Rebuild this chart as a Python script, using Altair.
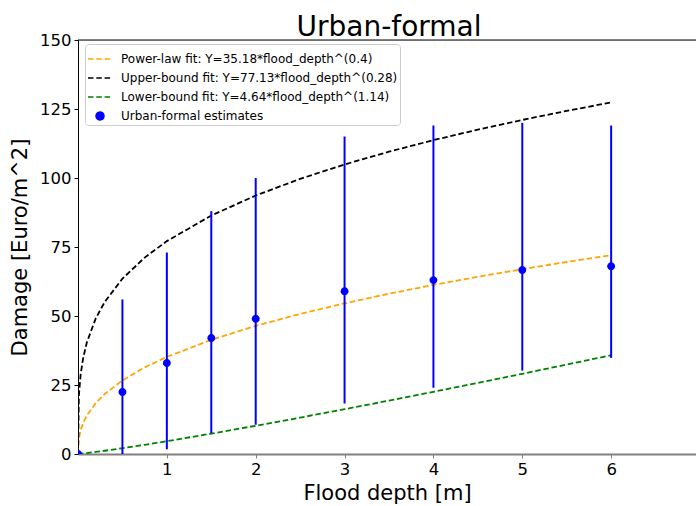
import altair as alt
import pandas as pd

TITLE = "Urban-formal"
POWER = "Power-law fit: Y=35.18*flood_depth^(0.4)"
UPPER = "Upper-bound fit: Y=77.13*flood_depth^(0.28)"
LOWER = "Lower-bound fit: Y=4.64*flood_depth^(1.14)"
EST = "Urban-formal estimates"

series_labels = [POWER, UPPER, LOWER, EST]
series_colors = ["#FFA500", "#000000", "#008000", "#0000FF"]

# fitted curves
fit_depth = [0, 0.01, 0.03, 0.06, 0.1, 0.2, 0.3, 0.5, 0.75, 1, 1.5, 2, 2.5, 3, 3.5, 4, 4.5, 5, 5.5, 6]
power_fit = [0, 5.58, 8.65, 11.42, 14.01, 18.48, 21.73, 26.66, 31.36, 35.18, 41.37, 46.42, 50.75,
             54.59, 58.07, 61.25, 64.21, 66.97, 69.57, 72.04]
upper_fit = [0, 21.25, 28.89, 35.09, 40.48, 49.15, 55.06, 63.52, 71.16, 77.13, 86.40, 93.65, 99.69,
             104.91, 109.54, 113.71, 117.52, 121.04, 124.32, 127.38]
lower_fit = [0, 0.02, 0.09, 0.19, 0.34, 0.74, 1.18, 2.11, 3.34, 4.64, 7.37, 10.23, 13.19,
             16.23, 19.35, 22.54, 25.77, 29.06, 32.40, 35.78]

# estimates with error ranges
est_depth = [0, 0.5, 1, 1.5, 2, 3, 4, 5, 6]
est_damage = [0, 22.5, 33, 42, 49, 59, 63, 66.7, 68]
est_low = [0, 0, 1.7, 7.5, 10.6, 18.3, 24, 30.2, 34.8]
est_high = [0, 56, 73, 88, 100, 115, 119, 120, 119]

x_domain = [0, 6.955]
y_domain = [0, 150]
x_ticks = [1, 2, 3, 4, 5, 6]
y_ticks = [0, 25, 50, 75, 100, 125, 150]

FONT = "DejaVu Sans"
DASH = [5.5, 2.8]
CIRCLE_PATH = "M-0.33,0A0.33,0.33,0,1,0,0.33,0A0.33,0.33,0,1,0,-0.33,0Z"

fit_rows = []
for label, vals in [(POWER, power_fit), (UPPER, upper_fit), (LOWER, lower_fit)]:
    for d, v in zip(fit_depth, vals):
        fit_rows.append({"series": label, "depth": d, "damage": v})
fit_df = pd.DataFrame(fit_rows)

est_df = pd.DataFrame({
    "series": [EST] * len(est_depth),
    "depth": est_depth,
    "damage": est_damage,
    "low": est_low,
    "high": est_high,
})

top_df = pd.DataFrame({"damage": [y_domain[1]]})

xscale = alt.Scale(domain=x_domain, nice=False, zero=False)
yscale = alt.Scale(domain=y_domain, nice=False)
color_scale = alt.Scale(domain=series_labels, range=series_colors)
shape_scale = alt.Scale(domain=series_labels, range=["stroke", "stroke", "stroke", CIRCLE_PATH])
dash_scale = alt.Scale(domain=series_labels, range=[DASH, DASH, DASH, [1, 0]])

YTITLE = "Damage [Euro/m^2]"
XTITLE = "Flood depth [m]"

x_axis = alt.Axis(values=x_ticks, format="d", grid=False, domainColor="#808080", domainWidth=2,
                  tickColor="#808080", tickSize=4, labelPadding=3, labelFontSize=16.5,
                  labelColor="black", labelFont=FONT, titleFont=FONT, titleFontSize=21,
                  titleFontWeight="normal", titleColor="black", titlePadding=5)
y_axis = alt.Axis(values=y_ticks, format="d", grid=False, domainColor="black", domainWidth=1,
                  tickColor="black", tickSize=4, labelPadding=3, labelFontSize=16.5,
                  labelColor="black", labelFont=FONT, titleFont=FONT, titleFontSize=21,
                  titleFontWeight="normal", titleColor="black", titlePadding=9)

legend = alt.Legend(
    title=None, orient="none", legendX=7, legendY=4,
    fillColor="white", strokeColor="#cccccc", cornerRadius=3, padding=2,
    labelFont=FONT, labelFontSize=12, labelColor="black", labelLimit=0,
    rowPadding=-3, labelOffset=8, symbolSize=576, symbolStrokeWidth=1.5,
    symbolFillColor="#0000FF", symbolOpacity=1,
)

lines = alt.Chart(fit_df).mark_line(strokeWidth=1.8, clip=True).encode(
    x=alt.X("depth:Q", scale=xscale, axis=x_axis, title=XTITLE),
    y=alt.Y("damage:Q", scale=yscale, axis=y_axis, title=YTITLE),
    color=alt.Color("series:N", scale=color_scale, legend=legend),
    strokeDash=alt.StrokeDash("series:N", scale=dash_scale, legend=legend),
)

errbars = alt.Chart(est_df).mark_rule(color="#0000FF", strokeWidth=2, clip=True).encode(
    x=alt.X("depth:Q", scale=xscale, title=XTITLE),
    y=alt.Y("low:Q", scale=yscale, title=YTITLE),
    y2="high:Q",
)

points = alt.Chart(est_df).mark_point(filled=True, size=576, opacity=1, clip=True).encode(
    x=alt.X("depth:Q", scale=xscale, title=XTITLE),
    y=alt.Y("damage:Q", scale=yscale, title=YTITLE),
    color=alt.Color("series:N", scale=color_scale, legend=legend),
    shape=alt.Shape("series:N", scale=shape_scale, legend=legend),
)

top_spine = alt.Chart(top_df).mark_rule(color="black", strokeWidth=1).encode(
    y=alt.Y("damage:Q", scale=yscale, title=YTITLE),
)

chart = alt.layer(lines, errbars, points, top_spine).properties(
    width=618,
    height=414,
    autosize=alt.AutoSizeParams(type="none"),
    padding={"left": 78, "top": 40, "right": 0, "bottom": 52},
    title=alt.TitleParams(text=TITLE, fontSize=28, font=FONT, fontWeight="normal",
                          anchor="middle", baseline="alphabetic", offset=4, dy=36,
                          frame="group", dx=2, color="black"),
).configure_view(stroke="transparent").configure(font=FONT, background="white")

chart.save("out.html", embed_options={"renderer": "svg", "actions": False})
